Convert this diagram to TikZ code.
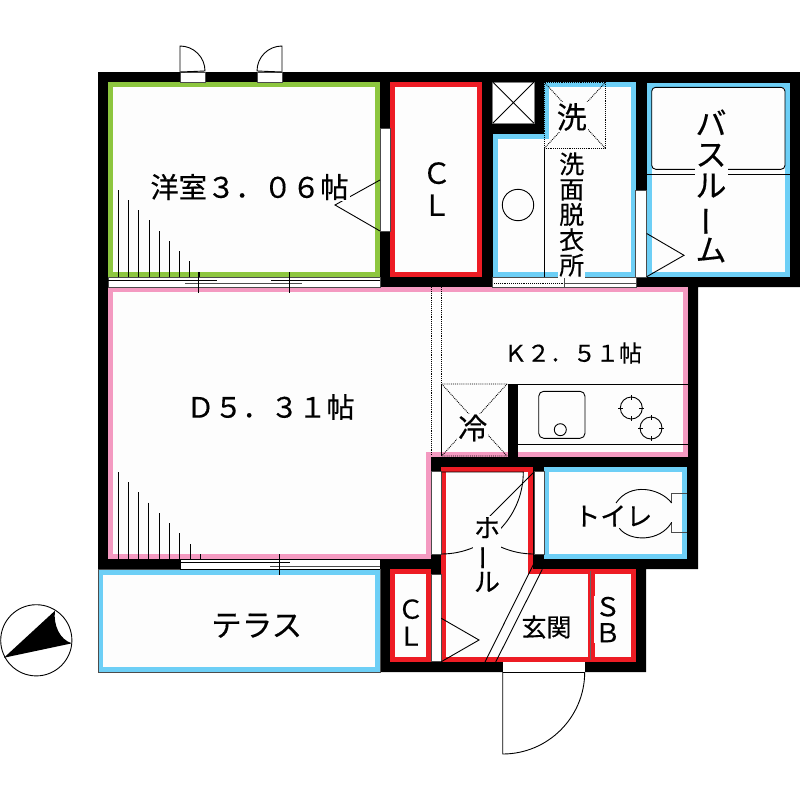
\documentclass[tikz,border=0pt]{standalone}
\usepackage{fontspec}
\setmainfont{Noto Sans CJK JP}[FakeBold=0.4]
\definecolor{roomgreen}{HTML}{8DC63F}
\definecolor{roomred}{HTML}{ED1C24}
\definecolor{roomblue}{HTML}{6DCFF6}
\definecolor{roompink}{HTML}{F49AC1}
\definecolor{roomfill}{HTML}{FDFDFD}
\newcommand{\vbar}{\rotatebox[origin=c]{90}{ー}}
\tikzset{
    room/.style={line width=5pt,fill=roomfill,draw=#1,miter limit=10},
    opening/.style={fill=white,draw=black!70,line width=0.7pt},
    thin line/.style={line width=0.9pt},
    label/.style 2 args={font=\fontsize{#1}{#2}\selectfont,fill=roomfill,inner sep=1pt,align=center,text=black},
}
\begin{document}
\begin{tikzpicture}[x=1pt,y=-1pt,thin line]
    \useasboundingbox(0,0)rectangle(800,800);
    \fill[white](0,0)rectangle(800,800);
    % walls
    \fill[black](98,72)--(800,72)--(800,287)--(698,287)--(698,569)--(646,569)--(646,672)--(380,672)--(380,569)--(98,569)--cycle;

    % rooms
    \draw[room=roomgreen](110.5,84.5)rectangle(377.5,274.5);
    \draw[room=roomred](392.5,84.5)rectangle(479.2,274.2);
    \draw[room=roompink](110.5,289.5)--(685.3,289.5)--(685.3,454)--(428.5,454)--(428.5,556.5)--(110.5,556.5)--cycle;
    \fill[black](508,384)rectangle(518,457);
    \fill[black](431,457)rectangle(698,467);
    \draw[room=roomblue](495.5,136.5)--(546.5,136.5)--(546.5,84.5)--(633.5,84.5)--(633.5,274.2)--(495.5,274.2)--cycle;
    \draw[room=roomblue](649.2,85)rectangle(787.5,274.5);
    \draw[room=roomblue](546.5,469.8)rectangle(684.8,556.5);
    \draw[room=roomred](443.8,469.8)--(530.8,469.8)--(530.8,571.8)--(590,571.8)--(590,659.5)--(443.8,659.5)--cycle;
    \draw[room=roomred](592.5,571.8)rectangle(633.5,659.5);
    \draw[room=roomred](392.5,571.8)rectangle(428.2,659.5);
    \draw[room=roomblue](100.5,572)rectangle(377.5,669.2);
    \draw[black!70](98,569.5)rectangle(380,672);
    \draw[black!60](590,571)--(590,660);

    % shaft
    \draw[fill=white,draw=black!50](492.7,82)rectangle(534,123.3);
    \draw(492.7,82)--(534,123.3)(534,82)--(492.7,123.3);

    % doors and windows on the north side
    \draw[opening](180,72)rectangle(205,82);
    \draw[opening](257,72)rectangle(282,82);
    \draw(180,72)--(180,46)arc[start angle=-90,end angle=0,radius=25]--cycle;
    \draw(282,72)--(282,46)arc[start angle=-90,end angle=-180,radius=25]--cycle;
    \draw[opening](380,128)rectangle(390,231);
    \draw(380,180)--(335,205)--(380,231);

    % sliding doors
    \draw[opening](108,277)rectangle(380,287);
    \draw(108,280)--(217,280)(271,280)--(380,280);
    \draw[black!70](185,283.7)--(302,283.7);
    \draw(198.5,272)--(198.5,293)(289.3,272)--(289.3,293);
    \fill[white](180,559)rectangle(380,569);
    \draw(180,559)--(380,559)(180,569)--(380,569)(180,559)--(180,569);
    \draw(180,562.3)--(290,562.3);
    \draw[black!70](270,566)--(380,566);
    \draw(279.3,554)--(279.3,574.7)(200,554)--(200,559);
    \draw[opening](492.7,277)rectangle(564.3,287);
    \draw[densely dotted](494,283)--(563,283);
    \draw[opening](564.3,277)rectangle(636,287);
    \draw[black!70,line width=1.5pt](564.3,283.5)--(636,283.5);

    % shelves
    \foreach \x/\t in {118/190,128.3/200,138.7/210,149/220.3,159.3/231,169.3/241,179.7/251,189.7/261}{
        \draw(\x,\t)--(\x,277);
    }
    \draw(199.7,272)--(199.7,277);
    \foreach \x/\t in {118.3/472,128.3/482.3,138.7/492.3,148.7/502.7,159/513,169.3/523.3,179.7/533.3,190/544}{
        \draw(\x,\t)--(\x,559);
    }

    % kitchen
    \draw[densely dotted](431,287)--(431,456);
    \draw[densely dotted](441.7,287)--(441.7,384);
    \draw(441.7,384)--(441.7,456);
    \draw[densely dotted](441.7,384)--(507,384)(441.7,456)--(507,456)(441.7,384)--(507,456)(507,384)--(441.7,456);
    \draw(518,384)--(688,384)(518,444.3)--(688,444.3);
    \draw[rounded corners=5pt](538.7,391.3)rectangle(585,438.3);
    \draw(560.3,429.7)circle(6);
    \foreach \cx/\cy in {631.3/408,651/428}{
        \draw(\cx,\cy)circle(11);
        \draw(\cx-13,\cy)--(\cx-8,\cy)(\cx+8,\cy)--(\cx+13,\cy)(\cx,\cy-13)--(\cx,\cy-8)(\cx,\cy+8)--(\cx,\cy+13);
    }

    % wash room
    \draw[densely dotted](544,82)rectangle(605.7,148.7);
    \draw[densely dotted](544,82)--(605.7,148.7)(605.7,82)--(544,148.7);
    \draw(544,148.7)--(544,277);
    \draw(518,205)circle(15.7);
    \draw[opening](635.7,190)rectangle(646.5,277);

    % bath
    \draw[rounded corners=4pt](651.7,87.3)rectangle(785,169.3);
    \draw(646.7,174.3)--(790,174.3);
    \draw(646.7,233.5)--(684,255.3)--(646.7,276.7);

    % toilet
    \draw[black!70](687,493.3)--(671.7,493.3)--(671.7,503);
    \draw[black!70](687,532)--(671.7,532)--(671.7,522.3);
    \draw(671.7,503)..controls(660,488)and(630,482)..(616,503);
    \draw(671.7,522.3)..controls(660,542)and(630,542)..(619.3,528.3);

    % hall
    \draw[opening](431,471.7)rectangle(441.3,554);
    \draw[opening](534,471.7)rectangle(544,554);
    \draw[opening](431,574)rectangle(441.3,661.7);
    \draw(441.3,472)--(523.3,472)arc[start angle=0,end angle=90,radius=82];
    \draw(534,472)--(476,530)arc[start angle=135,end angle=90,radius=82];
    \draw(441.3,618.3)--(479,640)--(441.3,661.7);
    \draw(534,563.3)--(485,662)(542.3,569.3)--(495.7,662);

    % entrance
    \fill[white](502.7,662)rectangle(585,672);
    \draw(502.7,662)--(502.7,672)(585,662)--(585,672)(502.7,672)--(585,672);
    \draw(502.7,672)--(502.7,754)arc[start angle=90,end angle=0,radius=82];

    % compass
    \draw[fill=white](36.3,640.3)circle(35.6);
    \fill[black](4,657.7)--(55,610.7)..controls(53,625)and(60,640)..(72,643.3)--cycle;

    % labels
    \node[label={28.3}{28}](western)at(249.5,187){洋室３．０６帖};
    \node[label={28}{27}](dining)at(270.5,407){Ｄ５．３１帖};
    \node[label={23}{23}](kitchen)at(573,353){Ｋ２．５１帖};
    \node[label={29}{32}](closetA)at(436.7,189){Ｃ\\Ｌ};
    \node[label={30}{30}](washer)at(571.7,117){洗};
    \node[label={25}{25.3}](washroom)at(571.7,214.5){洗\\面\\脱\\衣\\所};
    \node[label={31}{31}](bath)at(711,186){バ\\ス\\ル\\\vbar\\ム};
    \node[label={29}{29}](fridge)at(472.7,428){冷};
    \node[label={26}{26}](toilet)at(613.3,516){トイレ};
    \node[label={26}{26}](hall)at(487,554.5){ホ\\\vbar\\ル};
    \node[label={25}{25}](genkan)at(546.5,627){玄関};
    \node[label={26}{27}](closetB)at(410.7,622.5){Ｃ\\Ｌ};
    \node[label={26}{26}](shoebox)at(607.7,619.5){Ｓ\\Ｂ};
    \node[label={30.5}{30}](terrace)at(256.7,625.7){テラス};
\end{tikzpicture}
\end{document}
